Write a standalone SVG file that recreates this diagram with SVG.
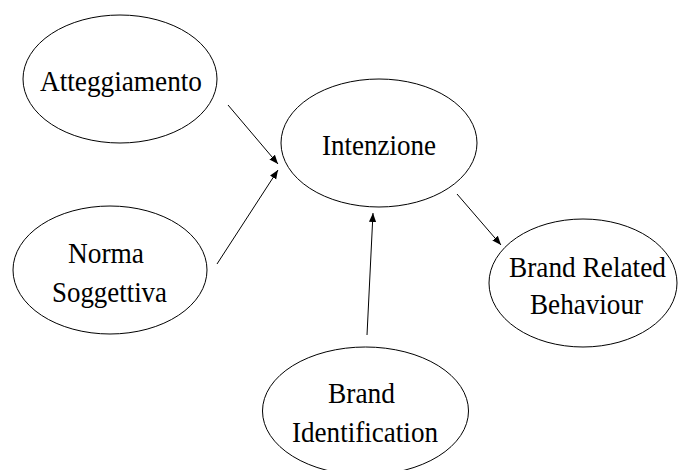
<svg xmlns="http://www.w3.org/2000/svg" width="678" height="470" viewBox="0 0 678 470">
<style>
.n{fill:#fff;stroke:#000;stroke-width:1}
.t{font-family:"Liberation Serif","Times New Roman",serif;font-size:29px;fill:#000;text-anchor:middle}
.c{stroke:#000;stroke-width:1;fill:none;marker-end:url(#ah)}
</style>
<defs>
<marker id="ah" viewBox="0 0 10 10" refX="10" refY="5" markerWidth="9" markerHeight="9" markerUnits="userSpaceOnUse" orient="auto">
<path d="M0,1 L10,5 L0,9 z" fill="#000"/>
</marker>
</defs>
<rect width="678" height="470" fill="#fff"/>
<g id="connectors">
<line class="c" x1="228" y1="105" x2="278" y2="164"/>
<line class="c" x1="217" y1="264" x2="278" y2="170"/>
<line class="c" x1="457" y1="194" x2="501" y2="245"/>
<line class="c" x1="367" y1="335" x2="373" y2="213"/>
</g>
<g id="atteggiamento">
<ellipse class="n" cx="120" cy="79" rx="97" ry="64"/>
<text class="t" x="121" y="91" textLength="162" lengthAdjust="spacingAndGlyphs">Atteggiamento</text>
</g>
<g id="intenzione">
<ellipse class="n" cx="379" cy="143" rx="98" ry="64"/>
<text class="t" x="379" y="155" textLength="114" lengthAdjust="spacingAndGlyphs">Intenzione</text>
</g>
<g id="norma">
<ellipse class="n" cx="110" cy="270" rx="97" ry="64"/>
<text class="t" x="106" y="263" textLength="76" lengthAdjust="spacingAndGlyphs">Norma</text>
<text class="t" x="109.5" y="302" textLength="115" lengthAdjust="spacingAndGlyphs">Soggettiva</text>
</g>
<g id="brb">
<ellipse class="n" cx="583" cy="283" rx="94" ry="64"/>
<text class="t" x="587.5" y="277" textLength="157" lengthAdjust="spacingAndGlyphs">Brand Related</text>
<text class="t" x="586.5" y="314" textLength="113" lengthAdjust="spacingAndGlyphs">Behaviour</text>
</g>
<g id="bi">
<ellipse class="n" cx="365.5" cy="411" rx="103" ry="64"/>
<text class="t" x="361.5" y="403" textLength="67" lengthAdjust="spacingAndGlyphs">Brand</text>
<text class="t" x="365" y="442" textLength="146" lengthAdjust="spacingAndGlyphs">Identification</text>
</g>
</svg>
